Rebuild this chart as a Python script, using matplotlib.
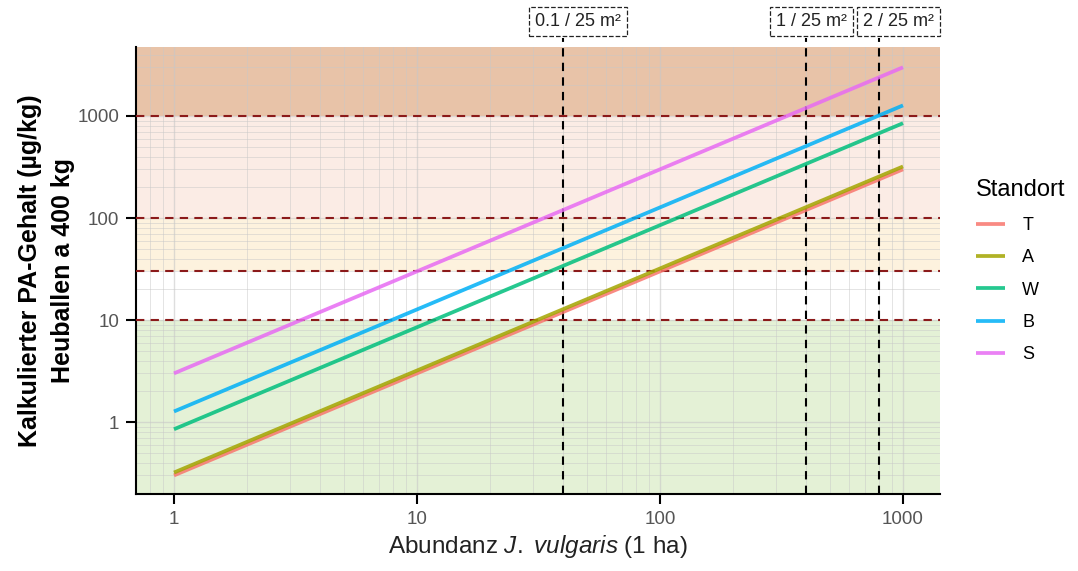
import matplotlib.pyplot as plt
import numpy as np
from matplotlib.ticker import FixedLocator, NullFormatter
import matplotlib.transforms as mtransforms

plt.rcParams['font.family'] = ['Liberation Sans', 'DejaVu Sans']
plt.rcParams['mathtext.fontset'] = 'custom'
plt.rcParams['mathtext.rm'] = 'Liberation Sans'
plt.rcParams['mathtext.it'] = 'Liberation Sans:italic'

# data
abundanz = [1, 10, 100, 1000]
standorte = ['T', 'A', 'W', 'B', 'S']
werte = {
    'T': [0.30, 3.0, 30, 300],
    'A': [0.32, 3.2, 32, 320],
    'W': [0.85, 8.5, 85, 850],
    'B': [1.27, 12.7, 127, 1270],
    'S': [3.0, 30, 300, 3000],
}
farben = ['#F8766D', '#A3A500', '#00BF7D', '#00B0F6', '#E76BF3']

grenzen = [10, 30, 100, 1000]
band_grenzen = [0.01, 10, 30, 100, 1000, 1e5]
band_farben = ['#e4f1d6', '#ffffff', '#fdf2de', '#fbece5', '#e8c3a8']

flaechen_x = [40, 400, 800]
flaechen_txt = ['0.1 / 25 m²', '1 / 25 m²', '2 / 25 m²']
label_x = [46, 422, 955]

fig = plt.figure(figsize=(10.78, 5.71), dpi=100)
ax = fig.add_axes([0.1262, 0.1348, 0.872 - 0.1262, 0.9177 - 0.1348])
ax.set_xscale('log')
ax.set_yscale('log')
ax.set_xlim(0.698, 1420)
ax.set_ylim(0.197, 4745)

for lo, hi, c in zip(band_grenzen[:-1], band_grenzen[1:], band_farben):
    ax.axhspan(lo, hi, color=c, zorder=0.2, lw=0)

ax.set_axisbelow(True)
ax.grid(True, which='major', color='#c8c8c8', lw=1.0, alpha=0.6)
ax.grid(True, which='minor', color='#c8c8c8', lw=0.7, alpha=0.5)

for g in grenzen:
    ax.axhline(g, color='#8b1a1a', ls=(0, (4, 3)), lw=1.5, zorder=3)

trans = mtransforms.blended_transform_factory(ax.transData, ax.transAxes)
for xv in flaechen_x:
    ax.plot([xv, xv], [0, 1.02], color='black', ls=(0, (4, 3)),
            lw=1.5, zorder=3, clip_on=False, transform=trans)

for xv, t in zip(label_x, flaechen_txt):
    ax.text(xv, 1.057, t, ha='center', va='center', fontsize=13,
            color='#222222', transform=trans,
            bbox=dict(boxstyle='square,pad=0.33', fc='white', ec='#222222',
                      ls='--', lw=0.9))

for s, c in zip(standorte, farben):
    ax.plot(abundanz, werte[s], color=c, lw=2.7, alpha=0.85, label=s, zorder=4,
            solid_capstyle='butt')

for sp in ['top', 'right']:
    ax.spines[sp].set_visible(False)
for sp in ['left', 'bottom']:
    ax.spines[sp].set_linewidth(1.5)
    ax.spines[sp].set_color('black')

ax.xaxis.set_major_locator(FixedLocator([1, 10, 100, 1000]))
ax.yaxis.set_major_locator(FixedLocator([1, 10, 100, 1000]))
ax.set_xticklabels(['1', '10', '100', '1000'])
ax.set_yticklabels(['1', '10', '100', '1000'])
minor = [m * 10.0 ** e for e in range(-1, 4) for m in range(2, 10)]
ax.xaxis.set_minor_locator(FixedLocator(minor))
ax.yaxis.set_minor_locator(FixedLocator(minor))
ax.xaxis.set_minor_formatter(NullFormatter())
ax.yaxis.set_minor_formatter(NullFormatter())
ax.tick_params(which='major', length=7, width=1.5, color='black',
               labelsize=13.5, labelcolor='#555555', pad=5)
ax.tick_params(which='minor', length=0)

ax.set_xlabel('Abundanz $\\it{J.}$ $\\it{vulgaris}$ (1 ha)', fontsize=17.5,
              color='#222222', labelpad=4)
ax.set_ylabel('Kalkulierter PA-Gehalt (µg/kg)\nHeuballen a 400 kg', fontsize=18,
              fontweight='bold', labelpad=2, linespacing=1.45)

leg = ax.legend(loc='upper left', bbox_to_anchor=(1.025, 0.74), frameon=False,
                title='Standort', fontsize=13, title_fontsize=17,
                handlelength=1.6, labelspacing=0.85, handletextpad=0.95)
leg._legend_box.align = 'left'

fig.savefig('out.png', dpi=100)
